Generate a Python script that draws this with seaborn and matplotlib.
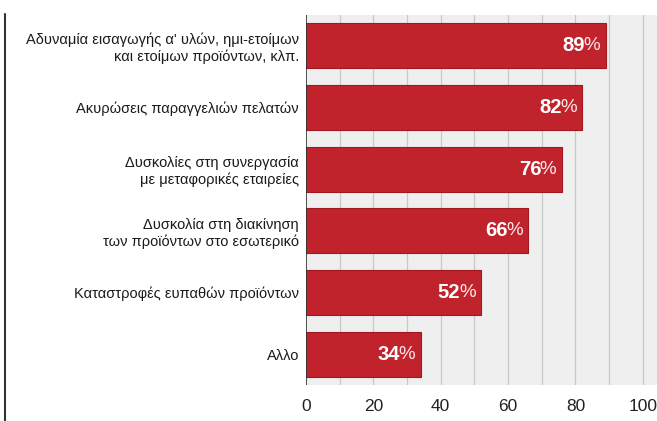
import matplotlib
matplotlib.use("Agg")
import matplotlib.pyplot as plt
import seaborn as sns
import pandas as pd
from matplotlib.lines import Line2D

categories = [
    "Αδυναμία εισαγωγής α' υλών, ημι-ετοίμων\nκαι ετοίμων προϊόντων, κλπ.",
    "Ακυρώσεις παραγγελιών πελατών",
    "Δυσκολίες στη συνεργασία\nμε μεταφορικές εταιρείες",
    "Δυσκολία στη διακίνηση\nτων προϊόντων στο εσωτερικό",
    "Καταστροφές ευπαθών προϊόντων",
    "Αλλο",
]
values = [89, 82, 76, 66, 52, 34]
xticks = [0, 20, 40, 60, 80, 100]

sns.set_theme(style="white")
plt.rcParams["font.family"] = ["Liberation Sans", "DejaVu Sans"]

df = pd.DataFrame({"cat": categories, "val": values})

fig = plt.figure(figsize=(6.57, 4.21), dpi=100)
ax = fig.add_axes([306/657, 1-385/421, 1-306/657, 370/421])
ax.set_facecolor("#efefef")

sns.barplot(data=df, x="val", y="cat", ax=ax, color="#c0232c", width=0.73,
            edgecolor="#a01820", linewidth=0.8, saturation=1, zorder=3)

ax.set_xlim(0, 104.2)
ax.set_xticks(xticks)
for x in range(10, 101, 10):
    ax.axvline(x, color="#c8c8c8", lw=0.9, zorder=1)
ax.axvline(0, color="#333333", lw=1.2, zorder=4)
ax.set_xlabel("")
ax.set_ylabel("")
for s in ax.spines.values():
    s.set_visible(False)
ax.tick_params(axis="x", which="major", length=0, labelsize=12.5, pad=10, labelcolor="#222222")
ax.tick_params(axis="y", length=0, labelsize=10.5, pad=5, labelcolor="#1a1a1a")
for lab in ax.get_yticklabels():
    lab.set_horizontalalignment("right")
    lab.set_multialignment("right")
    lab.set_linespacing(1.2)

for i, v in enumerate(values):
    ax.annotate("%", xy=(v, i), xytext=(-4, 0), textcoords="offset points",
                ha="right", va="center", color="#ffe8e8", fontsize=13.5, zorder=5)
    ax.annotate(str(v), xy=(v, i), xytext=(-15, 0), textcoords="offset points",
                ha="right", va="center", color="white", fontsize=14.5,
                fontweight="bold", zorder=5)

fig.add_artist(Line2D([5/657, 5/657], [0, 1-14/421], color="#333333", lw=1.5))

fig.savefig("out.png", dpi=100)
